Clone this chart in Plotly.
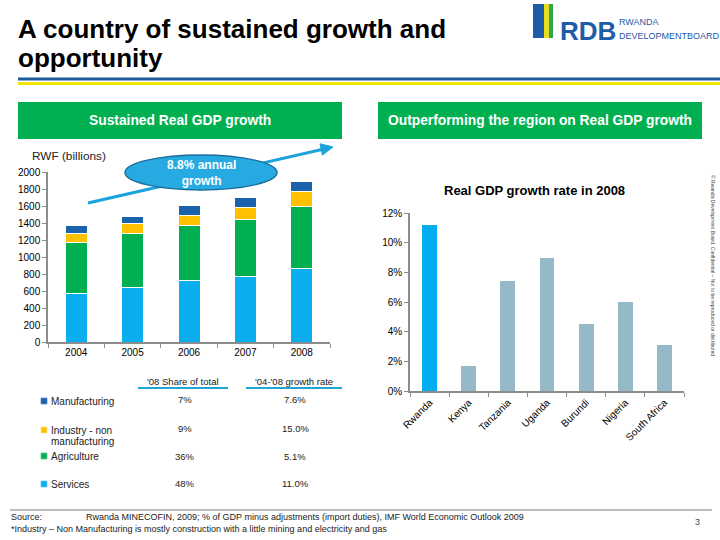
import plotly.graph_objects as go

# ---------------- data ----------------
years = ["2004", "2005", "2006", "2007", "2008"]
services = [570, 640, 722, 773, 867]
agriculture = [595, 632, 654, 674, 733]
industry_non_manuf = [106, 117, 118, 141, 165]
manufacturing = [94, 90, 114, 114, 125]

countries = ["Rwanda", "Kenya", "Tanzania", "Uganda", "Burundi", "Nigeria", "South Africa"]
growth_2008 = [0.112, 0.017, 0.074, 0.090, 0.045, 0.060, 0.031]

sector_labels = ["Manufacturing", "Industry - non<br>manufacturing", "Agriculture", "Services"]
share_2008 = ["7%", "9%", "36%", "48%"]
growth_04_08 = ["7.6%", "15.0%", "5.1%", "11.0%"]

y_ticks_left = [0, 200, 400, 600, 800, 1000, 1200, 1400, 1600, 1800, 2000]

# ---------------- style ----------------
FONT = "Arial, 'Liberation Sans', sans-serif"
C_SERV = "#0AAEEE"
C_AGRI = "#00B050"
C_IND = "#FFC000"
C_MAN = "#1A62AC"
C_RWA = "#00AEEF"
C_OTH = "#95B9C6"
GREEN_BOX = "#00B050"
AX = "#8C8C8C"

W, H = 720, 540


def px(x):
    return x / W


def py(y):
    return 1 - y / H


fig = go.Figure()

# left stacked bars
for name, vals, col in [("Services", services, C_SERV),
                        ("Agriculture", agriculture, C_AGRI),
                        ("Industry - non manufacturing", industry_non_manuf, C_IND),
                        ("Manufacturing", manufacturing, C_MAN)]:
    fig.add_trace(go.Bar(x=years, y=vals, name=name, marker_color=col,
                         marker_line_color="white", marker_line_width=1,
                         width=0.39, xaxis="x", yaxis="y", hoverinfo="skip"))

# right bars
fig.add_trace(go.Bar(x=countries, y=growth_2008,
                     marker_color=[C_RWA] + [C_OTH] * (len(countries) - 1),
                     marker_line_width=0, width=0.38, xaxis="x2", yaxis="y2",
                     hoverinfo="skip"))

axis_common = dict(showline=True, linecolor=AX, linewidth=1.5, ticks="outside",
                   tickcolor=AX, ticklen=4, showgrid=False, zeroline=False,
                   automargin=False,
                   tickfont=dict(family=FONT, size=10, color="black"), fixedrange=True)

fig.update_layout(
    template="none",
    width=W, height=H, margin=dict(l=0, r=0, t=0, b=0, pad=0), autosize=False,
    paper_bgcolor="white", plot_bgcolor="white",
    barmode="stack", showlegend=False, bargap=0.6,
    xaxis=dict(domain=[px(48), px(330)], anchor="y", type="category",
               tickson="boundaries", **axis_common),
    yaxis=dict(domain=[py(342), py(172)], anchor="x", range=[0, 2000],
               tickvals=y_ticks_left, **axis_common),
    xaxis2=dict(domain=[px(410), px(684)], anchor="y2", type="category",
                tickson="boundaries", tickangle=-45, **axis_common),
    yaxis2=dict(domain=[py(391), py(213)], anchor="x2", range=[0, 0.12],
                dtick=0.02, tickformat=".0%", **axis_common),
)

shapes = []
ann = []

# header lines
shapes.append(dict(type="rect", xref="paper", yref="paper", x0=px(18), x1=px(720),
                   y0=py(80.5), y1=py(77.5), fillcolor="#1F5C9E", line_width=0))
shapes.append(dict(type="rect", xref="paper", yref="paper", x0=px(18), x1=px(720),
                   y0=py(85), y1=py(82), fillcolor="#F2E600", line_width=0))

# green header boxes
for x0, x1, txt in [(18, 342, "Sustained Real GDP growth"),
                    (378, 702, "Outperforming the region on Real GDP growth")]:
    shapes.append(dict(type="rect", xref="paper", yref="paper", x0=px(x0), x1=px(x1),
                       y0=py(139), y1=py(102), fillcolor=GREEN_BOX, line_width=0))
    ann.append(dict(xref="paper", yref="paper", x=px((x0 + x1) / 2), y=py(120.5),
                    text="<b>" + txt + "</b>", showarrow=False,
                    font=dict(family=FONT, size=13.8, color="white"),
                    xanchor="center", yanchor="middle"))

# logo stripes
for x0, x1, col in [(533, 544, "#1F5CA8"), (544, 549, "#E6DF1E"), (549, 553, "#2EA84B")]:
    shapes.append(dict(type="rect", xref="paper", yref="paper", x0=px(x0), x1=px(x1),
                       y0=py(38), y1=py(4), fillcolor=col, line_width=0))
ann.append(dict(xref="paper", yref="paper", x=px(558), y=py(31), text="<b>RDB</b>",
                showarrow=False, xanchor="left", yanchor="middle",
                font=dict(family=FONT, size=26, color="#1F5CA8")))
ann.append(dict(xref="paper", yref="paper", x=px(617), y=py(22), text="RWANDA",
                showarrow=False, xanchor="left", yanchor="middle",
                font=dict(family=FONT, size=9, color="#1F5CA8")))
ann.append(dict(xref="paper", yref="paper", x=px(617), y=py(36), text="DEVELOPMENTBOARD",
                showarrow=False, xanchor="left", yanchor="middle",
                font=dict(family=FONT, size=9, color="#1F5CA8")))

# title
ann.append(dict(xref="paper", yref="paper", x=px(16), y=py(29),
                text="<b>A country of sustained growth and</b>", showarrow=False,
                xanchor="left", yanchor="middle", font=dict(family=FONT, size=26, color="black")))
ann.append(dict(xref="paper", yref="paper", x=px(16), y=py(58),
                text="<b>opportunity</b>", showarrow=False,
                xanchor="left", yanchor="middle", font=dict(family=FONT, size=26, color="black")))

# RWF label
ann.append(dict(xref="paper", yref="paper", x=px(30), y=py(156), text="RWF (billions)",
                showarrow=False, xanchor="left", yanchor="middle",
                font=dict(family=FONT, size=11.8, color="#222")))

# growth arrow (line + head), then ellipse on top
tip = (333, 147)
tail = (88, 203)
shapes.append(dict(type="line", xref="paper", yref="paper",
                   x0=px(tail[0]), y0=py(tail[1]), x1=px(323), y1=py(149.3),
                   line=dict(color="#1BA3DC", width=3)))
head = "M {} {} L {} {} L {} {} Z".format(px(tip[0]), py(tip[1]),
                                        px(322.5), py(155.0),
                                        px(320.0), py(143.8))
shapes.append(dict(type="path", xref="paper", yref="paper", path=head,
                   fillcolor="#1BA3DC", line=dict(color="#1BA3DC", width=1)))
shapes.append(dict(type="circle", xref="paper", yref="paper", x0=px(125), x1=px(277),
                   y0=py(190), y1=py(155), fillcolor="#27AAE1",
                   line=dict(color="#1B6E9E", width=1.5)))
ann.append(dict(xref="paper", yref="paper", x=px(201), y=py(172.5),
                text="<b>8.8% annual<br>growth</b>", showarrow=False,
                xanchor="center", yanchor="middle",
                font=dict(family=FONT, size=12, color="white")))

# right chart title
ann.append(dict(xref="paper", yref="paper", x=px(534), y=py(191),
                text="<b>Real GDP growth rate in 2008</b>", showarrow=False,
                xanchor="center", yanchor="middle",
                font=dict(family=FONT, size=13, color="black")))

# table headers
for cx, x0, x1, txt in [(183, 138, 228, "'08 Share of total"),
                        (294, 246, 342, "'04-'08 growth rate")]:
    ann.append(dict(xref="paper", yref="paper", x=px(cx), y=py(381), text=txt,
                    showarrow=False, xanchor="center", yanchor="middle",
                    font=dict(family=FONT, size=9.5, color="#222")))
    shapes.append(dict(type="rect", xref="paper", yref="paper", x0=px(x0), x1=px(x1),
                       y0=py(389), y1=py(387), fillcolor="#1FA6D6", line_width=0))

# table rows
row_y = [401, 430, 456, 484]
val_y = [399, 428, 456, 483]
marker_cols = [C_MAN, C_IND, C_AGRI, C_SERV]
marker_edge = ["#5A8FC8", "#FFE08A", "#66CC88", "#66CCF5"]
for i in range(4):
    yy = row_y[i]
    shapes.append(dict(type="rect", xref="paper", yref="paper", x0=px(41), x1=px(47),
                       y0=py(yy + 3), y1=py(yy - 3), fillcolor=marker_cols[i],
                       line=dict(color=marker_edge[i], width=0.8)))
    if i == 1:
        ann.append(dict(xref="paper", yref="paper", x=px(49), y=py(yy), text="Industry - non",
                        showarrow=False, xanchor="left", yanchor="middle",
                        font=dict(family=FONT, size=10, color="#222")))
        ann.append(dict(xref="paper", yref="paper", x=px(49), y=py(yy + 11), text="manufacturing",
                        showarrow=False, xanchor="left", yanchor="middle",
                        font=dict(family=FONT, size=10, color="#222")))
    else:
        ann.append(dict(xref="paper", yref="paper", x=px(49), y=py(yy), text=sector_labels[i],
                        showarrow=False, xanchor="left", yanchor="middle",
                        font=dict(family=FONT, size=10, color="#222")))
    ann.append(dict(xref="paper", yref="paper", x=px(185), y=py(val_y[i]), text=share_2008[i],
                    showarrow=False, xanchor="center", yanchor="middle",
                    font=dict(family=FONT, size=9.5, color="#222")))
    ann.append(dict(xref="paper", yref="paper", x=px(295), y=py(val_y[i]), text=growth_04_08[i],
                    showarrow=False, xanchor="center", yanchor="middle",
                    font=dict(family=FONT, size=9.5, color="#222")))

# vertical confidentiality note
ann.append(dict(xref="paper", yref="paper", x=px(713), y=py(265),
                text="© Rwanda Development Board. Confidential \u2013 Not to be reproduced or distributed",
                showarrow=False, textangle=90, xanchor="center", yanchor="middle",
                font=dict(family=FONT, size=5, color="#444")))

# footer
shapes.append(dict(type="line", xref="paper", yref="paper", x0=px(10), x1=px(712),
                   y0=py(510), y1=py(510), line=dict(color="#7F7F7F", width=1)))
ann.append(dict(xref="paper", yref="paper", x=px(9), y=py(517), text="Source:",
                showarrow=False, xanchor="left", yanchor="middle",
                font=dict(family=FONT, size=9, color="#222")))
ann.append(dict(xref="paper", yref="paper", x=px(84), y=py(517),
                text="Rwanda MINECOFIN, 2009; % of GDP minus adjustments (import duties), IMF World Economic Outlook 2009",
                showarrow=False, xanchor="left", yanchor="middle",
                font=dict(family=FONT, size=9, color="#222")))
ann.append(dict(xref="paper", yref="paper", x=px(9), y=py(529),
                text="*Industry \u2013 Non Manufacturing is mostly construction with a little mining and electricity and gas",
                showarrow=False, xanchor="left", yanchor="middle",
                font=dict(family=FONT, size=9, color="#222")))
ann.append(dict(xref="paper", yref="paper", x=px(697), y=py(522), text="3",
                showarrow=False, xanchor="center", yanchor="middle",
                font=dict(family=FONT, size=9, color="#444")))

fig.update_layout(shapes=shapes, annotations=ann)
fig.write_html("out.html", config={"displayModeBar": False},
               post_script="document.body.style.margin='0';document.body.style.padding='0';")
